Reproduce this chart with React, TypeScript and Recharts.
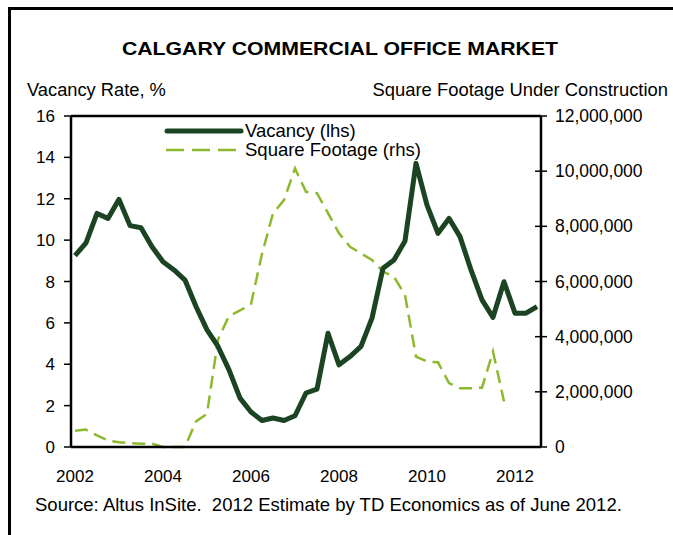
import {
  LineChart,
  Line,
  XAxis,
  YAxis,
  ReferenceLine,
} from 'recharts';

const quarters = [
  '2002Q1', '2002Q2', '2002Q3', '2002Q4',
  '2003Q1', '2003Q2', '2003Q3', '2003Q4',
  '2004Q1', '2004Q2', '2004Q3', '2004Q4',
  '2005Q1', '2005Q2', '2005Q3', '2005Q4',
  '2006Q1', '2006Q2', '2006Q3', '2006Q4',
  '2007Q1', '2007Q2', '2007Q3', '2007Q4',
  '2008Q1', '2008Q2', '2008Q3', '2008Q4',
  '2009Q1', '2009Q2', '2009Q3', '2009Q4',
  '2010Q1', '2010Q2', '2010Q3', '2010Q4',
  '2011Q1', '2011Q2', '2011Q3', '2011Q4',
  '2012Q1', '2012Q2', '2012Q3',
];

// vacancy rate, % (left axis)
const vacancy = [
  9.25, 9.87, 11.29, 11.05, 11.97, 10.7, 10.6, 9.68, 8.96, 8.56, 8.07, 6.79,
  5.66, 4.86, 3.73, 2.36, 1.69, 1.28, 1.4, 1.28, 1.51, 2.61, 2.8, 5.5, 3.97,
  4.37, 4.86, 6.23, 8.64, 9.04, 9.96, 13.71, 11.69, 10.33, 11.05, 10.17, 8.56,
  7.11, 6.27, 7.99, 6.47, 6.47, 6.79,
];

// square footage under construction (right axis)
const sqFootage: (number | null)[] = [
  590000, 630000, 420000, 240000, 170000, 140000, 120000, 120000, 0, 0, 0,
  930000, 1200000, 3900000, 4750000, 4950000, 5190000, 7000000, 8470000,
  8950000, 10100000, 9250000, 9200000, 8480000, 7750000, 7260000, 7020000,
  6780000, 6360000, 6170000, 5510000, 3280000, 3100000, 3070000, 2320000,
  2130000, 2130000, 2150000, 3460000, 1650000, null, null, null,
];

const leftTicks = [0, 2, 4, 6, 8, 10, 12, 14, 16];
const rightTicks = [0, 2000000, 4000000, 6000000, 8000000, 10000000, 12000000];

const data = quarters.map((q, i) => ({
  q,
  vacancy: vacancy[i],
  sqft: sqFootage[i],
}));

const FONT = '"Liberation Sans", Arial, sans-serif';
const DARK = '#1b4423';
const LIME = '#8db92e';

function RightTick(props: any) {
  const { x, y, payload } = props;
  return (
    <g>
      <line x1={535} x2={547} y1={y} y2={y} stroke="#000" strokeWidth={1.5} />
      <text x={x} y={y} dy={6} fontSize={17.5} fontFamily={FONT} fill="#000">
        {Number(payload.value).toLocaleString('en-US')}
      </text>
    </g>
  );
}

function ChartLegend() {
  return (
    <div style={{ fontFamily: FONT, fontSize: 18.5, color: '#000', lineHeight: '19px' }}>
      <div style={{ display: 'flex', alignItems: 'center' }}>
        <svg width={81} height={19}>
          <line x1={3} x2={77} y1={10} y2={10} stroke={DARK} strokeWidth={5} strokeLinecap="round" />
        </svg>
        <span>Vacancy (lhs)</span>
      </div>
      <div style={{ display: 'flex', alignItems: 'center' }}>
        <svg width={81} height={19}>
          <line x1={2} x2={78} y1={10} y2={10} stroke={LIME} strokeWidth={2.5} strokeDasharray="18 8" />
        </svg>
        <span>Square Footage (rhs)</span>
      </div>
    </div>
  );
}

export default function App() {
  return (
    <div
      style={{
        position: 'absolute',
        left: 0,
        top: 0,
        width: 673,
        height: 535,
        overflow: 'hidden',
        background: '#fff',
        fontFamily: FONT,
      }}
    >
      <div
        style={{
          position: 'absolute',
          left: 8,
          top: 7,
          width: 800,
          height: 700,
          borderTop: '3.5px solid #000',
          borderLeft: '3.5px solid #000',
        }}
      />
      <div
        style={{
          position: 'absolute',
          left: 0,
          width: 680,
          top: 39,
          textAlign: 'center',
          fontSize: 18,
          fontWeight: 'bold',
          transform: 'scaleX(1.18)',
        }}
      >
        CALGARY COMMERCIAL OFFICE MARKET
      </div>
      <div style={{ position: 'absolute', left: 27, top: 79, fontSize: 18.3 }}>
        Vacancy Rate, %
      </div>
      <div style={{ position: 'absolute', right: 5, top: 79, fontSize: 18.4 }}>
        Square Footage Under Construction
      </div>
      <div style={{ position: 'absolute', left: 35, top: 494, fontSize: 18.5 }}>
        Source: Altus InSite.&nbsp; 2012 Estimate by TD Economics as of June 2012.
      </div>
      <div style={{ position: 'absolute', left: 0, top: 0 }}>
        <LineChart
          width={673}
          height={535}
          data={data}
          margin={{ top: 116, right: 12, bottom: 58, left: 11 }}
        >
          <XAxis
            dataKey="q"
            interval={7}
            padding={{ left: 4, right: 4 }}
            tickFormatter={(v: string) => v.slice(0, 4)}
            tickLine={false}
            tickSize={0}
            tickMargin={23}
            height={30}
            axisLine={{ stroke: '#000', strokeWidth: 2.5 }}
            tick={{ fontSize: 17, fontFamily: FONT, fill: '#000' }}
          />
          <YAxis
            yAxisId="left"
            domain={[0, 16]}
            ticks={leftTicks}
            width={60}
            tickSize={7}
            tickMargin={9}
            axisLine={{ stroke: '#000', strokeWidth: 2.5 }}
            tickLine={{ stroke: '#000', strokeWidth: 1.5 }}
            tick={{ fontSize: 17, fontFamily: FONT, fill: '#000' }}
          />
          <YAxis
            yAxisId="right"
            orientation="right"
            domain={[0, 12000000]}
            ticks={rightTicks}
            width={120}
            tickLine={false}
            tickSize={0}
            tickMargin={14}
            axisLine={{ stroke: '#000', strokeWidth: 2.5 }}
            tick={<RightTick />}
          />
          <ReferenceLine yAxisId="left" y={16} stroke="#000" strokeWidth={2.5} />
          <Line
            yAxisId="right"
            type="linear"
            dataKey="sqft"
            stroke={LIME}
            strokeWidth={2.5}
            strokeDasharray="13 7"
            dot={false}
            isAnimationActive={false}
          />
          <Line
            yAxisId="left"
            type="linear"
            dataKey="vacancy"
            stroke={DARK}
            strokeWidth={5}
            strokeLinejoin="round"
            dot={false}
            isAnimationActive={false}
          />
        </LineChart>
      </div>
      <div style={{ position: 'absolute', left: 164, top: 121 }}>
        <ChartLegend />
      </div>
    </div>
  );
}
